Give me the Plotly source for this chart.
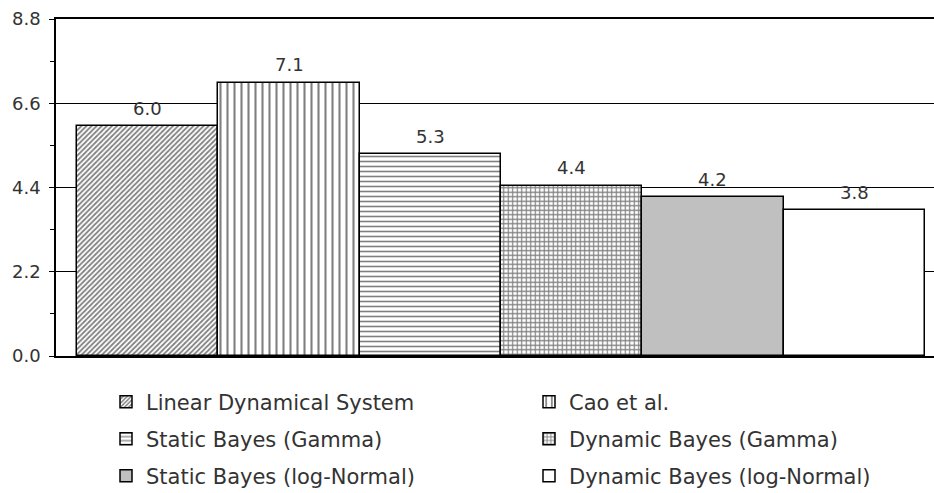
import plotly.graph_objects as go

methods = ["Linear Dynamical System", "Cao et al.", "Static Bayes (Gamma)",
           "Dynamic Bayes (Gamma)", "Static Bayes (log-Normal)", "Dynamic Bayes (log-Normal)"]
values = [6.0, 7.13, 5.27, 4.44, 4.15, 3.80]
labels = ["6.0", "7.1", "5.3", "4.4", "4.2", "3.8"]
y_ticks = [0.0, 2.2, 4.4, 6.6, 8.8]

patterns = ["/", "|", "-", "+", "", ""]
pat_sizes = [3.6, 7, 5, 4.5, 8, 8]
pat_solid = [0.5, 0.3, 0.32, 0.45, 0.3, 0.3]
fills = ["white", "white", "white", "white", "#c0c0c0", "white"]
legend_ids = ["legend", "legend", "legend2", "legend2", "legend3", "legend3"]

FONT = "DejaVu Sans"
TXT = "#333333"

fig = go.Figure()
for i, m in enumerate(methods):
    marker = dict(color=fills[i], line=dict(color="black", width=1.5))
    if patterns[i]:
        marker["pattern"] = dict(shape=patterns[i], fgcolor="black", bgcolor="white",
                                 size=pat_sizes[i], solidity=pat_solid[i])
    fig.add_trace(go.Bar(x=[m], y=[values[i]], name=m, marker=marker,
                         legend=legend_ids[i], hoverinfo="skip"))
    fig.add_annotation(x=m, y=values[i], text=labels[i], showarrow=False,
                       yanchor="middle", yshift=18,
                       font=dict(family=FONT, size=18, color=TXT))

legend_common = dict(orientation="h", xref="container", yref="container",
                     xanchor="left", yanchor="middle", entrywidth=378,
                     font=dict(family=FONT, size=21, color=TXT),
                     bgcolor="rgba(0,0,0,0)", borderwidth=0)
rows_y = [402, 439, 476]
LX = 106
fig.update_layout(
    width=934, height=493,
    margin=dict(l=56, r=0, t=19, b=137, autoexpand=False),
    paper_bgcolor="white", plot_bgcolor="white",
    barmode="overlay", bargap=0,
    showlegend=True,
    legend=dict(**legend_common, x=LX / 934, y=1 - rows_y[0] / 493),
    legend2=dict(**legend_common, x=LX / 934, y=1 - rows_y[1] / 493),
    legend3=dict(**legend_common, x=LX / 934, y=1 - rows_y[2] / 493),
    xaxis=dict(type="category", categoryorder="array", categoryarray=methods,
               range=[-0.649, 5.564], showticklabels=False, ticks="",
               showgrid=False, zeroline=False, showline=True, mirror=True,
               linecolor="black", linewidth=1.5),
    yaxis=dict(range=[0, 8.8], tickvals=y_ticks, tickformat=".1f",
               ticks="outside", ticklen=5, tickcolor="black", tickwidth=1,
               ticklabelstandoff=5,
               tickfont=dict(family=FONT, size=18, color=TXT),
               showgrid=True, gridcolor="black", gridwidth=1,
               zeroline=False, showline=True, linecolor="black", linewidth=1.5,
               minor=dict(dtick=1.1, tick0=0, ticks="outside", ticklen=4,
                          tickcolor="black", showgrid=False)),
    yaxis2=dict(overlaying="y", anchor="x", side="left", range=[0, 8.8],
                tickvals=[1.1, 3.3, 5.5, 7.7], ticks="inside", ticklen=4,
                tickcolor="black", showticklabels=False, showgrid=False,
                zeroline=False, showline=False),
)

fig.write_html("out.html", config={"displayModeBar": False},
               post_script="document.body.style.margin='0';document.body.style.overflow='hidden';")
